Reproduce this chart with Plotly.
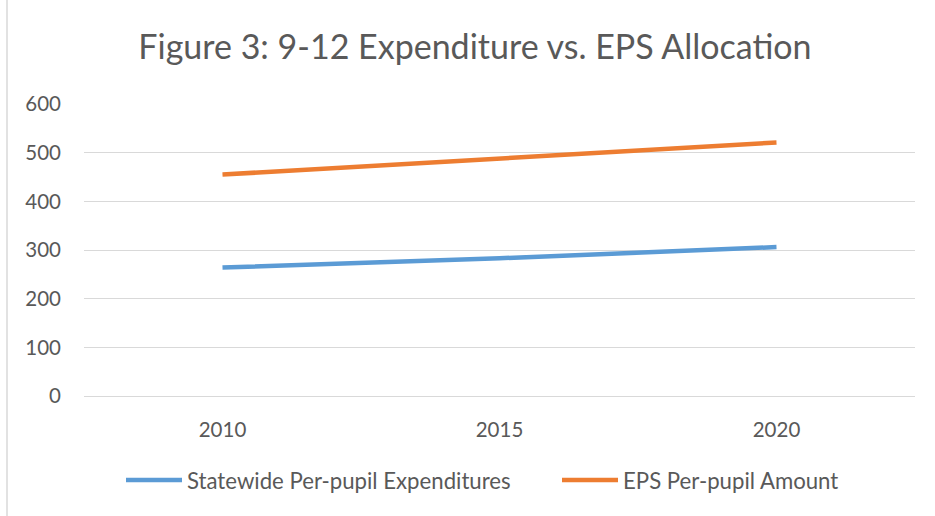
import plotly.graph_objects as go

years = ["2010", "2015", "2020"]
statewide = [264, 283, 306]
eps = [455, 489, 521]
y_ticks = [0, 100, 200, 300, 400, 500, 600]

FONT = "Lato"
GRAY = "#595959"
GRID = "#D9D9D9"

fig = go.Figure()
fig.add_trace(go.Scatter(x=years, y=statewide, mode="lines", name="Statewide Per-pupil Expenditures",
                         line=dict(color="#5B9BD5", width=4.5), legend="legend"))
fig.add_trace(go.Scatter(x=years, y=eps, mode="lines", name="EPS Per-pupil Amount",
                         line=dict(color="#ED7D31", width=4.5), legend="legend2"))

leg_common = dict(orientation="h", xanchor="left", y=-84 / 292, yanchor="middle",
                  font=dict(size=22.2, color=GRAY), itemwidth=56, bgcolor="rgba(0,0,0,0)")

fig.update_layout(
    width=935, height=516,
    margin=dict(l=84, r=20, t=104, b=120, autoexpand=False),
    paper_bgcolor="white", plot_bgcolor="white",
    font=dict(family=FONT, color=GRAY, size=16),
    title=dict(text="Figure 3: 9-12 Expenditure vs. EPS Allocation", x=0.508, xanchor="center",
               y=1 - 47 / 516, yanchor="middle", font=dict(family=FONT, size=34, color=GRAY)),
    xaxis=dict(type="category", range=[-0.5, 2.5], showgrid=False, zeroline=False,
               showline=True, linecolor=GRID, linewidth=1.3,
               ticks="", tickfont=dict(size=20.5, color=GRAY), ticklabelstandoff=15),
    yaxis=dict(range=[0, 600], tickvals=y_ticks, showgrid=True, gridcolor=GRID, gridwidth=1.3,
               zeroline=False, showline=False, ticks="", tickfont=dict(size=20.5, color=GRAY),
               ticklabelstandoff=22),
    legend=dict(x=(121 - 84) / 831, **leg_common),
    legend2=dict(x=(557 - 84) / 831, **leg_common),
    showlegend=True,
)
fig.add_shape(type="line", xref="paper", yref="paper", x0=-77/831, x1=-77/831, y0=-120/292, y1=1 + 104/292,
              line=dict(color=GRID, width=1.5))
fig.write_html("out.html", config={"displayModeBar": False},
               post_script="document.body.style.margin='0';document.body.style.overflow='hidden';")
